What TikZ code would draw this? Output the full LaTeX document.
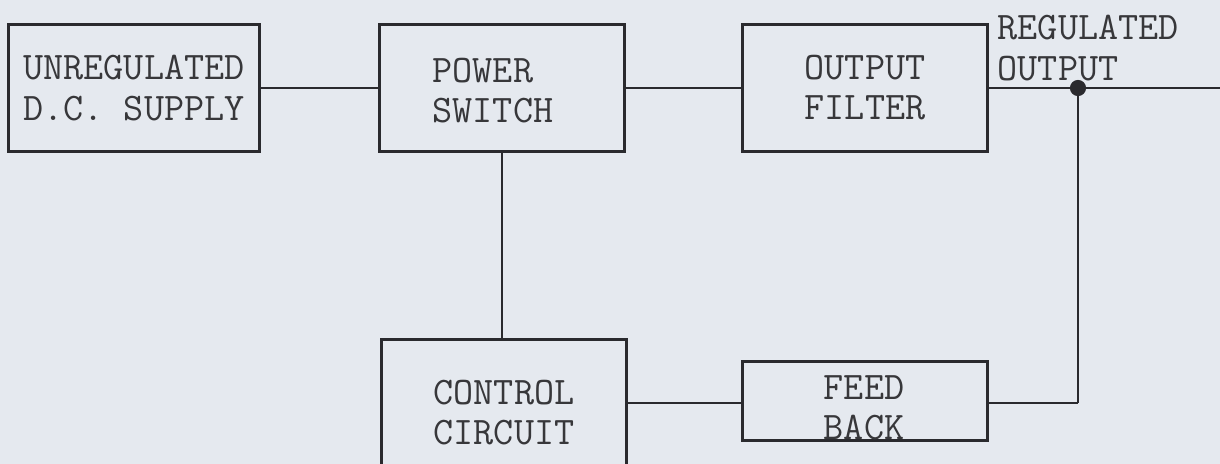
\documentclass[tikz,border=0pt]{standalone}
\usepackage{xcolor}
\usepackage{tikz}
\definecolor{paper}{RGB}{229,233,239}
\definecolor{ink}{RGB}{42,42,46}
\definecolor{type}{RGB}{55,55,58}

\begin{document}
\begin{tikzpicture}[x=0.01cm, y=-0.01cm,
    block/.style={draw=ink, line width=0.85pt, text=type, align=left, inner sep=0pt,
      font=\ttfamily\fontsize{11.1}{11.4}\selectfont},
    blocktext/.style={text=type, align=left, inner sep=0pt,
      font=\ttfamily\fontsize{11.1}{11.4}\selectfont},
    outlabel/.style={blocktext, anchor=west},
    wire/.style={draw=ink, line width=0.85pt},
    thinwire/.style={draw=ink, line width=0.6pt}]
  \fill[paper] (0,0) rectangle (1220,464);
  \useasboundingbox (0,0) rectangle (1220,464);
  % top row
  \node[block, minimum width=2.5cm, minimum height=1.26cm] (supply) at (134,88) {UNREGULATED\\D.C. SUPPLY};
  \node[block, minimum width=2.44cm, minimum height=1.26cm] (switch) at (502,88) {};
  \node[blocktext] (switchtext) at (493,91) {POWER\\SWITCH};
  \node[block, minimum width=2.44cm, minimum height=1.26cm] (filter) at (865,88) {OUTPUT\\FILTER};
  % bottom row, control box runs off the sheet
  \node[block, minimum width=2.45cm, minimum height=1.46cm] (control) at (504,413) {CONTROL\\CIRCUIT};
  \node[block, minimum width=2.44cm, minimum height=0.79cm] (feedback) at (865,401) {};
  \node[blocktext] (fbtext) at (864,408) {FEED\\BACK};
  \node[outlabel] (regout) at (997,48) {REGULATED\\OUTPUT};
  \coordinate (tap) at (1078,88);
  \coordinate (out) at (1220,88);
  \coordinate (corner) at (1078,403);
  \draw[wire] (supply) -- (switch);
  \draw[wire] (switch) -- (filter);
  \draw[wire] (filter) -- (out);
  \draw[thinwire] (switch.south) -- (switch.south |- control.north);
  \draw[wire] (control.east |- corner) -- (feedback.west |- corner);
  \draw[wire] (feedback.east |- corner) -- (corner);
  \draw[thinwire] (corner) -- (tap);
  \fill[ink] (tap) circle (2.3pt);
\end{tikzpicture}
\end{document}
